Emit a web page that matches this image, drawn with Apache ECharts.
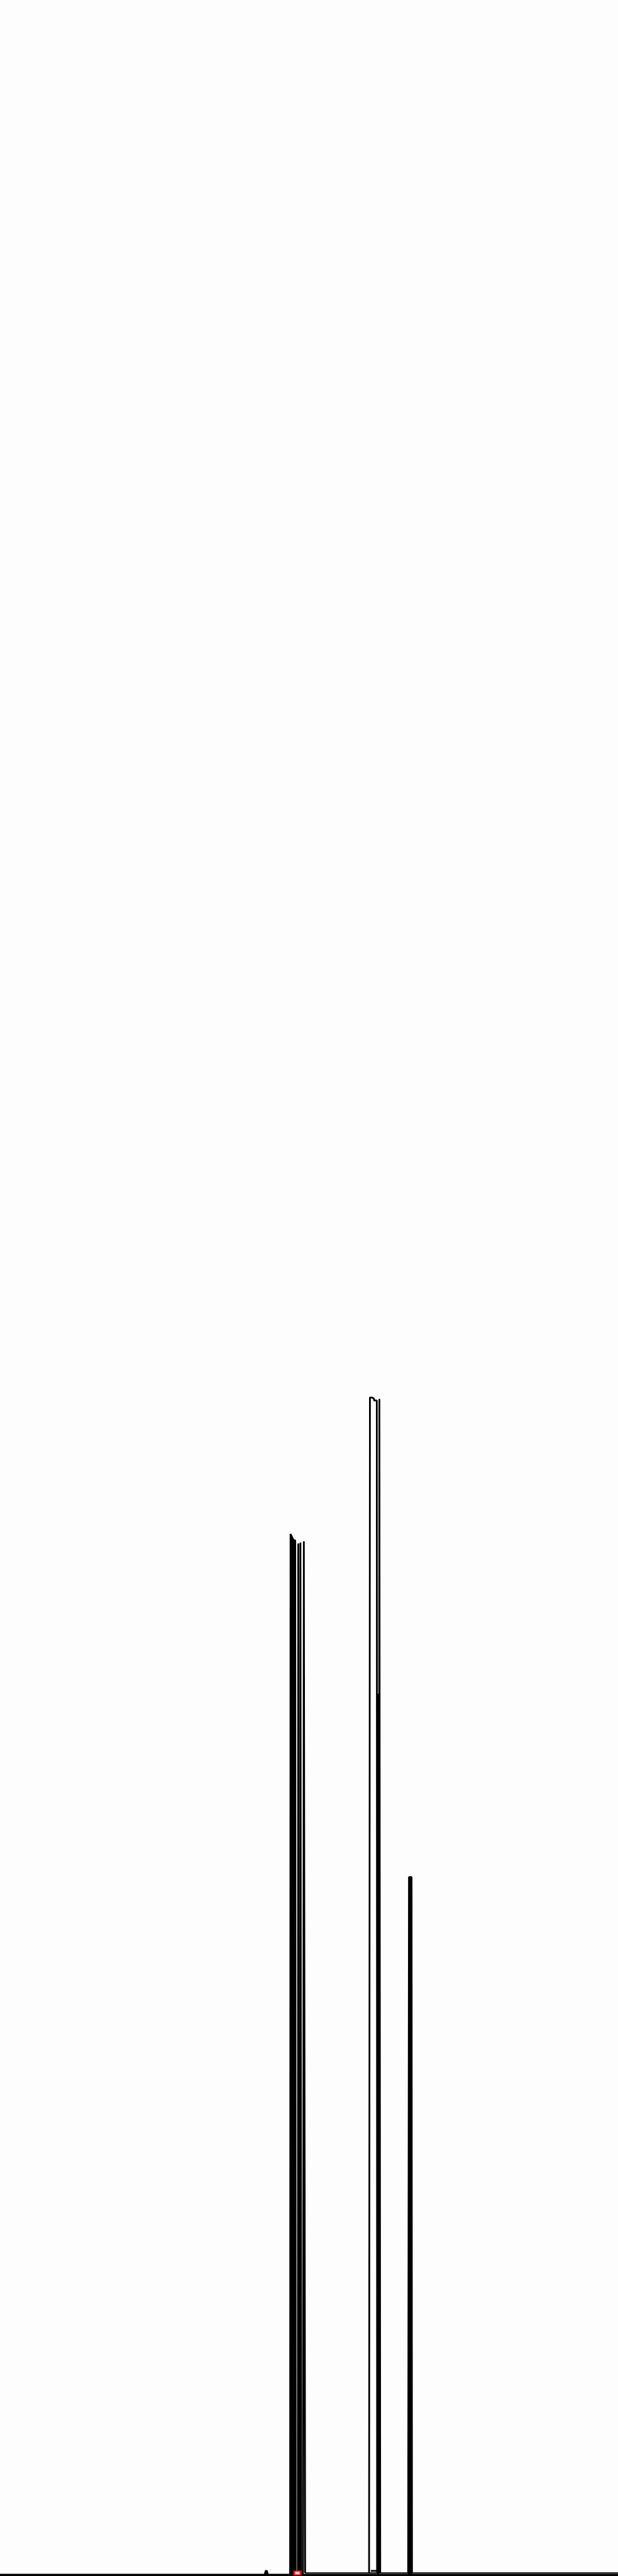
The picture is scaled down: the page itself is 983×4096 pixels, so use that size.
<!DOCTYPE html>
<html>
<head>
<meta charset="utf-8">
<script src="https://cdn.jsdelivr.net/npm/echarts@6/dist/echarts.min.js"></script>
<style>
html,body{margin:0;padding:0;background:#fdfdfd;}
#chart{width:983px;height:4096px;}
</style>
</head>
<body>
<div id="chart"></div>
<script>
// Data: [x, value]
var seriesA1 = [[0,0],[676,0],[677,2424],[678,2422],[680,2418],[682,2414],[684,2410],[688,2409],[689,0],[1440,0]];
var seriesA2 = [[694,0],[695,2402],[697,0]];
var seriesA3 = [[699,0],[700,2404],[702,0]];
var seriesA4 = [[706,0],[708,2407],[711,4]];
var seriesBase = [[711,4],[1440,4]];
var seriesB1 = [[860,4],[862,2742],[866,2742],[871,2740],[872,2735],[878,2735],[879,9],[864,9]];
var seriesB2 = [[882,4],[884,2739],[886,4]];
var seriesB3 = [[879,4],[880,2052],[882,2052],[883,4]];
var seriesC1 = [[951,4],[953,1625],[959,1625],[960,4]];
var seriesD = [[617,0],[618,5],[619,9],[622,9],[623,5],[624,0]];
var markerRed = [[693,4]];

var xMin = 0, xMax = 1440, yMin = 0, yMax = 5997;

function lineSeries(data, fill, width) {
  var s = {
    type: 'line',
    data: data,
    showSymbol: false,
    symbol: 'none',
    lineStyle: { color: '#000', width: width || 2.8 },
    silent: true
  };
  if (fill) s.areaStyle = { color: '#000', opacity: 1 };
  return s;
}

var chart = echarts.init(document.getElementById('chart'), null, { renderer: 'canvas' });
chart.setOption({
  animation: false,
  backgroundColor: '#fdfdfd',
  grid: { left: 0, right: 0, top: 0, bottom: 2, containLabel: false },
  xAxis: {
    type: 'value', min: xMin, max: xMax,
    axisLine: { show: true, lineStyle: { color: '#000', width: 3 } },
    axisTick: { show: false }, axisLabel: { show: false }, splitLine: { show: false }
  },
  yAxis: {
    type: 'value', min: yMin, max: yMax,
    axisLine: { show: false }, axisTick: { show: false }, axisLabel: { show: false }, splitLine: { show: false }
  },
  series: [
    lineSeries(seriesA1, true),
    lineSeries(seriesA2),
    lineSeries(seriesA3),
    lineSeries(seriesA4),
    lineSeries(seriesBase, false, 2),
    lineSeries(seriesB1),
    lineSeries(seriesB2),
    lineSeries(seriesB3, true),
    lineSeries(seriesC1, true),
    lineSeries(seriesD, true),
    {
      type: 'scatter',
      data: markerRed,
      symbol: 'rect',
      symbolSize: [10, 6],
      z: 10,
      itemStyle: { color: '#ffffff', borderColor: '#ff0000', borderWidth: 2.5 },
      silent: true
    }
  ]
});
</script>
</body>
</html>
